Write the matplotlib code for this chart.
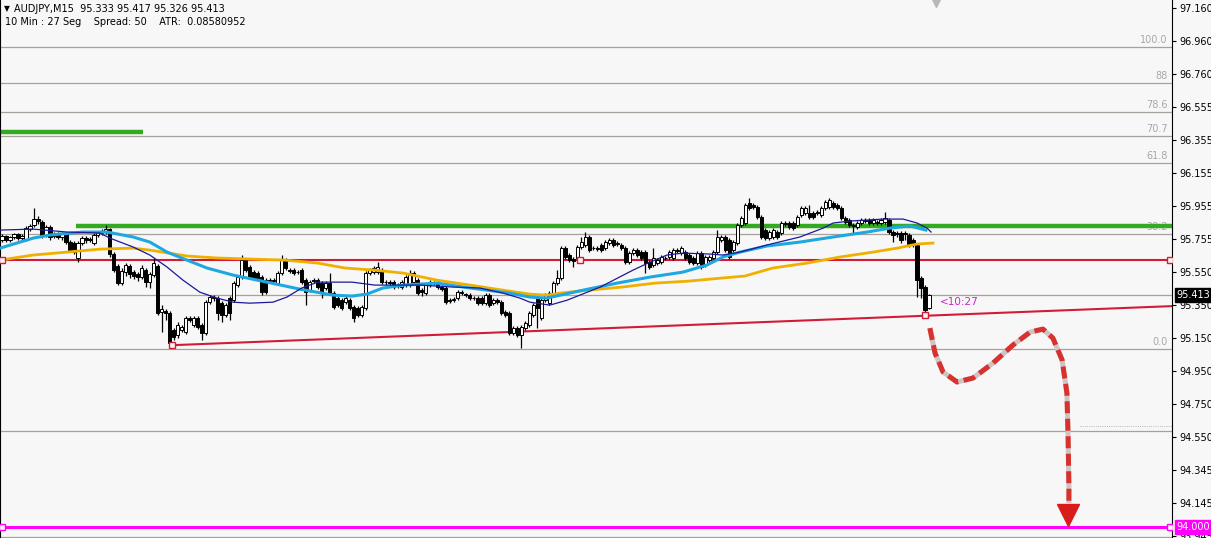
import numpy as np
import matplotlib.pyplot as plt
from matplotlib import transforms

# AUDJPY M15 candles
opens = [95.747, 95.772, 95.747, 95.766, 95.784, 95.759, 95.747, 95.814, 95.839, 95.875,
         95.857, 95.778, 95.827, 95.772, 95.784, 95.766, 95.784, 95.735, 95.729, 95.638,
         95.729, 95.759, 95.747, 95.729, 95.778, 95.790, 95.796, 95.814, 95.662, 95.589,
         95.485, 95.552, 95.589, 95.552, 95.540, 95.522, 95.564, 95.491, 95.534, 95.589,
         95.308, 95.314, 95.302, 95.198, 95.168, 95.198, 95.186, 95.272, 95.229, 95.272,
         95.229, 95.180, 95.369, 95.394, 95.394, 95.363, 95.290, 95.394, 95.381, 95.473,
         95.522, 95.625, 95.583, 95.552, 95.546, 95.522, 95.503, 95.503, 95.503, 95.485,
         95.546, 95.625, 95.564, 95.564, 95.552, 95.564, 95.503, 95.442, 95.503, 95.503,
         95.485, 95.455, 95.485, 95.424, 95.394, 95.381, 95.369, 95.381, 95.339, 95.333,
         95.290, 95.333, 95.546, 95.552, 95.552, 95.564, 95.491, 95.491, 95.491, 95.473,
         95.461, 95.473, 95.473, 95.491, 95.503, 95.442, 95.424, 95.473, 95.485, 95.485,
         95.461, 95.455, 95.381, 95.381, 95.394, 95.424, 95.418, 95.412, 95.394, 95.394,
         95.394, 95.363, 95.412, 95.363, 95.381, 95.369, 95.308, 95.302, 95.180, 95.211,
         95.168, 95.211, 95.229, 95.290, 95.394, 95.272, 95.381, 95.363, 95.424, 95.485,
         95.516, 95.698, 95.656, 95.631, 95.638, 95.705, 95.717, 95.766, 95.698, 95.698,
         95.717, 95.698, 95.729, 95.747, 95.729, 95.717, 95.698, 95.613, 95.668, 95.686,
         95.674, 95.674, 95.613, 95.595, 95.607, 95.613, 95.638, 95.644, 95.638, 95.686,
         95.668, 95.674, 95.656, 95.638, 95.607, 95.668, 95.595, 95.625, 95.638, 95.674,
         95.747, 95.766, 95.747, 95.686, 95.729, 95.839, 95.851, 95.973, 95.961, 95.948,
         95.887, 95.808, 95.759, 95.766, 95.796, 95.790, 95.851, 95.851, 95.851, 95.839,
         95.900, 95.912, 95.912, 95.912, 95.918, 95.900, 95.942, 95.948, 95.973, 95.961,
         95.942, 95.881, 95.869, 95.839, 95.827, 95.851, 95.869, 95.869, 95.851, 95.857,
         95.851, 95.857, 95.869, 95.796, 95.790, 95.790, 95.790, 95.778, 95.747, 95.717,
         95.516, 95.461, 95.333]
highs = [95.784, 95.778, 95.772, 95.790, 95.790, 95.784, 95.833, 95.845, 95.942, 95.894,
         95.869, 95.839, 95.839, 95.796, 95.796, 95.796, 95.796, 95.747, 95.741, 95.741,
         95.772, 95.772, 95.766, 95.790, 95.802, 95.814, 95.839, 95.820, 95.674, 95.601,
         95.577, 95.607, 95.601, 95.564, 95.552, 95.595, 95.577, 95.552, 95.638, 95.601,
         95.351, 95.326, 95.314, 95.211, 95.247, 95.229, 95.284, 95.284, 95.284, 95.284,
         95.241, 95.381, 95.412, 95.412, 95.406, 95.375, 95.363, 95.406, 95.497, 95.534,
         95.656, 95.638, 95.595, 95.564, 95.558, 95.534, 95.516, 95.516, 95.516, 95.558,
         95.656, 95.638, 95.577, 95.577, 95.564, 95.577, 95.516, 95.503, 95.516, 95.516,
         95.497, 95.497, 95.546, 95.436, 95.406, 95.394, 95.406, 95.394, 95.351, 95.345,
         95.351, 95.558, 95.577, 95.589, 95.613, 95.577, 95.503, 95.503, 95.503, 95.485,
         95.503, 95.534, 95.564, 95.558, 95.516, 95.455, 95.485, 95.503, 95.497, 95.497,
         95.473, 95.467, 95.394, 95.400, 95.442, 95.442, 95.424, 95.424, 95.406, 95.406,
         95.406, 95.424, 95.424, 95.394, 95.394, 95.381, 95.320, 95.314, 95.223, 95.223,
         95.229, 95.253, 95.314, 95.363, 95.406, 95.394, 95.424, 95.436, 95.497, 95.564,
         95.711, 95.711, 95.668, 95.644, 95.717, 95.766, 95.796, 95.778, 95.711, 95.711,
         95.729, 95.747, 95.759, 95.759, 95.741, 95.729, 95.711, 95.680, 95.698, 95.698,
         95.686, 95.686, 95.625, 95.698, 95.638, 95.656, 95.650, 95.686, 95.698, 95.698,
         95.711, 95.686, 95.668, 95.650, 95.680, 95.680, 95.656, 95.656, 95.686, 95.808,
         95.778, 95.778, 95.759, 95.747, 95.851, 95.894, 95.973, 96.003, 95.973, 95.961,
         95.900, 95.820, 95.808, 95.820, 95.808, 95.863, 95.863, 95.863, 95.863, 95.900,
         95.955, 95.955, 95.961, 95.924, 95.930, 95.955, 95.991, 96.003, 95.985, 95.973,
         95.955, 95.894, 95.881, 95.851, 95.863, 95.881, 95.881, 95.881, 95.881, 95.869,
         95.881, 95.918, 95.881, 95.808, 95.802, 95.802, 95.802, 95.790, 95.759, 95.729,
         95.528, 95.473, 95.417]
lows = [95.735, 95.735, 95.735, 95.753, 95.747, 95.747, 95.741, 95.802, 95.827, 95.845,
        95.759, 95.766, 95.747, 95.759, 95.753, 95.747, 95.723, 95.674, 95.662, 95.613,
        95.717, 95.729, 95.735, 95.717, 95.766, 95.778, 95.784, 95.644, 95.552, 95.473,
        95.473, 95.528, 95.516, 95.509, 95.497, 95.509, 95.461, 95.455, 95.522, 95.290,
        95.186, 95.259, 95.101, 95.137, 95.150, 95.186, 95.174, 95.247, 95.217, 95.204,
        95.137, 95.168, 95.357, 95.375, 95.259, 95.247, 95.278, 95.259, 95.369, 95.461,
        95.509, 95.552, 95.509, 95.503, 95.503, 95.412, 95.418, 95.485, 95.491, 95.473,
        95.534, 95.564, 95.546, 95.534, 95.540, 95.479, 95.351, 95.430, 95.485, 95.448,
        95.394, 95.442, 95.412, 95.326, 95.339, 95.320, 95.357, 95.320, 95.247, 95.278,
        95.278, 95.320, 95.534, 95.540, 95.540, 95.479, 95.473, 95.467, 95.448, 95.455,
        95.448, 95.461, 95.461, 95.479, 95.412, 95.406, 95.412, 95.461, 95.473, 95.448,
        95.436, 95.357, 95.363, 95.369, 95.381, 95.412, 95.400, 95.381, 95.381, 95.351,
        95.351, 95.351, 95.339, 95.351, 95.357, 95.290, 95.278, 95.168, 95.168, 95.156,
        95.089, 95.198, 95.217, 95.278, 95.211, 95.259, 95.369, 95.351, 95.412, 95.473,
        95.503, 95.631, 95.613, 95.583, 95.625, 95.692, 95.705, 95.674, 95.686, 95.680,
        95.674, 95.686, 95.717, 95.705, 95.711, 95.686, 95.601, 95.601, 95.656, 95.644,
        95.625, 95.546, 95.570, 95.583, 95.595, 95.601, 95.625, 95.631, 95.625, 95.668,
        95.656, 95.625, 95.601, 95.595, 95.595, 95.570, 95.583, 95.613, 95.625, 95.662,
        95.735, 95.674, 95.631, 95.674, 95.717, 95.827, 95.839, 95.930, 95.936, 95.875,
        95.753, 95.747, 95.747, 95.753, 95.753, 95.778, 95.833, 95.814, 95.808, 95.827,
        95.887, 95.900, 95.875, 95.875, 95.900, 95.887, 95.930, 95.936, 95.936, 95.930,
        95.869, 95.845, 95.827, 95.790, 95.814, 95.839, 95.851, 95.839, 95.839, 95.839,
        95.839, 95.845, 95.784, 95.735, 95.766, 95.729, 95.747, 95.705, 95.705, 95.400,
        95.394, 95.272, 95.326]
closes = [95.772, 95.747, 95.766, 95.784, 95.759, 95.772, 95.820, 95.833, 95.875, 95.863,
          95.778, 95.827, 95.766, 95.784, 95.766, 95.784, 95.735, 95.686, 95.674, 95.729,
          95.759, 95.747, 95.753, 95.778, 95.790, 95.802, 95.814, 95.662, 95.564, 95.485,
          95.558, 95.595, 95.540, 95.528, 95.522, 95.577, 95.491, 95.540, 95.607, 95.302,
          95.326, 95.302, 95.119, 95.156, 95.229, 95.217, 95.272, 95.259, 95.272, 95.217,
          95.180, 95.369, 95.400, 95.400, 95.302, 95.290, 95.351, 95.302, 95.485, 95.522,
          95.625, 95.564, 95.522, 95.516, 95.516, 95.430, 95.430, 95.497, 95.500, 95.546,
          95.625, 95.577, 95.558, 95.546, 95.550, 95.491, 95.430, 95.491, 95.497, 95.461,
          95.430, 95.485, 95.424, 95.339, 95.351, 95.333, 95.394, 95.333, 95.272, 95.290,
          95.339, 95.546, 95.564, 95.577, 95.583, 95.491, 95.489, 95.485, 95.461, 95.471,
          95.491, 95.522, 95.546, 95.546, 95.424, 95.430, 95.473, 95.491, 95.483, 95.461,
          95.448, 95.369, 95.375, 95.387, 95.430, 95.430, 95.412, 95.394, 95.392, 95.363,
          95.363, 95.412, 95.351, 95.381, 95.369, 95.302, 95.290, 95.180, 95.211, 95.168,
          95.217, 95.241, 95.302, 95.351, 95.333, 95.381, 95.412, 95.424, 95.485, 95.516,
          95.698, 95.644, 95.625, 95.619, 95.705, 95.735, 95.766, 95.686, 95.696, 95.692,
          95.686, 95.735, 95.747, 95.717, 95.723, 95.698, 95.613, 95.668, 95.686, 95.656,
          95.638, 95.607, 95.583, 95.638, 95.625, 95.644, 95.636, 95.674, 95.686, 95.680,
          95.698, 95.638, 95.613, 95.607, 95.668, 95.583, 95.644, 95.644, 95.674, 95.766,
          95.766, 95.686, 95.644, 95.735, 95.839, 95.881, 95.961, 95.942, 95.948, 95.887,
          95.766, 95.759, 95.796, 95.808, 95.766, 95.851, 95.845, 95.827, 95.820, 95.887,
          95.942, 95.942, 95.887, 95.887, 95.912, 95.942, 95.979, 95.991, 95.948, 95.942,
          95.881, 95.857, 95.839, 95.833, 95.851, 95.869, 95.863, 95.851, 95.869, 95.851,
          95.869, 95.881, 95.796, 95.778, 95.784, 95.747, 95.784, 95.717, 95.717, 95.503,
          95.455, 95.320, 95.413]

# moving averages: (bar index, price) samples
ma_fast_x = [-0.5, 7.8, 16.3, 24.5, 27, 32.8, 37, 41.3, 45.3, 49.5, 53.8, 57.8, 62, 67.8,
             71.3, 75, 79, 87.6, 93.3, 104.6, 112.9, 119.6, 125.4, 129.6, 132.1, 137.1,
             141.4, 149.7, 157.9, 162.2, 166.4, 170.4, 177.2, 180.4, 184.7, 191.4, 199.7,
             205.5, 208, 212.2, 220.5, 225.5, 229, 231.5, 232.5]
ma_fast_y = [95.808, 95.814, 95.796, 95.790, 95.759, 95.705, 95.656, 95.583, 95.503, 95.430,
             95.394, 95.369, 95.363, 95.369, 95.400, 95.455, 95.491, 95.491, 95.473, 95.473,
             95.461, 95.455, 95.424, 95.394, 95.369, 95.351, 95.381, 95.461, 95.564, 95.613,
             95.656, 95.668, 95.662, 95.656, 95.674, 95.717, 95.766, 95.820, 95.851, 95.863,
             95.875, 95.875, 95.851, 95.820, 95.796]
ma_mid_x = [-0.5, 7.8, 12, 20.3, 26.3, 32.8, 37, 41.3, 46.3, 51.3, 57.8, 66.3, 74.6, 82.8,
            87.6, 91.3, 95.3, 100.4, 108.9, 115.4, 121.4, 127.1, 132.1, 136.4, 145.4, 153.9,
            162.2, 170.4, 176.4, 180.4, 184.7, 191.4, 199.7, 208, 216.5, 222.2, 227.2, 231.2]
ma_mid_y = [95.698, 95.759, 95.778, 95.796, 95.796, 95.766, 95.735, 95.674, 95.625, 95.577,
            95.534, 95.491, 95.448, 95.412, 95.406, 95.418, 95.455, 95.473, 95.485, 95.461,
            95.442, 95.424, 95.400, 95.394, 95.442, 95.485, 95.522, 95.552, 95.595, 95.644,
            95.674, 95.711, 95.735, 95.766, 95.796, 95.820, 95.833, 95.808]
ma_slow_x = [-0.5, 7.8, 16.3, 24.5, 32.8, 37, 46.3, 53.8, 70.8, 79, 85.8, 93.3, 100.4, 108.9,
             117.1, 125.4, 132.1, 136.4, 139.6, 146.6, 155.2, 163.4, 171.7, 180.2, 185.9,
             192.9, 201.5, 209.7, 218, 224, 229, 233]
ma_slow_y = [95.625, 95.656, 95.674, 95.692, 95.698, 95.686, 95.650, 95.638, 95.625, 95.607,
             95.577, 95.564, 95.546, 95.503, 95.473, 95.442, 95.418, 95.412, 95.424, 95.442,
             95.461, 95.485, 95.497, 95.516, 95.528, 95.577, 95.607, 95.644, 95.674, 95.698,
             95.723, 95.729]

# horizontal levels
fib_levels = [96.922, 96.701, 96.529, 96.383, 96.219, 95.785, 95.083, 94.583]
fib_labels = ['100.0', '88', '78.6', '70.7', '61.8', '38.2', '0.0', '']
bid_price = 95.413
green_top = 96.405
green_top_end = 35.3
green_res = 95.833
green_res_start = 18.5
red_support = 95.625
target_price = 94.000
trend_x = [42.5, 292.8]
trend_y = [95.107, 95.345]
dotted_level = 94.615

# hand drawn projected path
path_x = [232.2, 233.5, 235.5, 239, 243, 248, 253, 257.3, 260.5, 263, 265.3, 266.5, 266.8, 267, 267]
path_y = [95.211, 95.059, 94.944, 94.883, 94.907, 94.998, 95.108, 95.187, 95.205, 95.150,
          95.017, 94.816, 94.548, 94.243, 94.146]

ticks = [97.160, 96.960, 96.760, 96.555, 96.355, 96.155, 95.955, 95.755, 95.550,
         95.350, 95.150, 94.950, 94.750, 94.550, 94.345, 94.145, 93.945]

bg = '#f8f7f7'
fig = plt.figure(figsize=(12.11, 5.38), dpi=100)
fig.patch.set_facecolor(bg)
ax = fig.add_axes([0, 0, 1172 / 1211, 1])
ax.set_facecolor(bg)
x0, x1 = -0.5, 292.8
ax.set_xlim(x0, x1)
ax.set_ylim(93.933, 97.209)

for s in ['top', 'bottom']:
    ax.spines[s].set_visible(False)
ax.spines['right'].set_color('black')
ax.spines['left'].set_color('black')
ax.set_xticks([])
ax.yaxis.tick_right()
ax.set_yticks(ticks)
ax.set_yticklabels(['%.3f' % t for t in ticks])
ax.tick_params(axis='y', length=3, width=0.8, pad=2, labelsize=7, colors='black')

yx = transforms.blended_transform_factory(ax.transAxes, ax.transData)

for lv, lb in zip(fib_levels, fib_labels):
    ax.axhline(lv, color='#a7a19b', lw=0.9, zorder=1)
    if lb:
        ax.text(0.9965, lv + 0.012, lb, transform=yx, ha='right', va='bottom',
                fontsize=7, color='#a8a8a8', zorder=2)
ax.axhline(bid_price, color='#a7a19b', lw=0.9, zorder=1)
ax.axhline(93.942, color='#a7a19b', lw=0.9, zorder=1)
ax.plot([269.8, x1], [dotted_level, dotted_level], color='#a0a0a0', lw=0.6, ls=':', zorder=1)

ax.plot([x0, green_top_end], [green_top, green_top], color='#33aa22', lw=3.2, zorder=2,
        solid_capstyle='butt')
ax.plot([green_res_start, x1], [green_res, green_res], color='#33aa22', lw=3.2, zorder=2,
        solid_capstyle='butt')
ax.axhline(red_support, color='#d01c38', lw=1.5, zorder=2)
ax.plot(trend_x, trend_y, color='#d01c38', lw=1.5, zorder=2)
ax.axhline(target_price, color='#ff00ff', lw=2.2, zorder=2)

# candles
o = np.array(opens)
c = np.array(closes)
idx = np.arange(len(c))
up = c >= o
ax.vlines(idx, lows, highs, color='black', lw=0.9, zorder=3)
ax.bar(idx, np.maximum(np.abs(c - o), 0.004), bottom=np.minimum(o, c), width=0.8,
       color=np.where(up, 'white', 'black'), edgecolor='black', lw=0.7, zorder=4)

ax.plot(ma_slow_x, ma_slow_y, color='#f0b000', lw=2.0, zorder=5)
ax.plot(ma_mid_x, ma_mid_y, color='#1ea8e0', lw=2.2, zorder=5)
ax.plot(ma_fast_x, ma_fast_y, color='#1a1a9a', lw=0.9, zorder=6)

# small square handles
sq = dict(marker='s', ms=4, mfc=bg, mew=1.0, ls='none', zorder=7)
ax.plot([x0 + 0.4, 144.6, x1 - 0.4], [red_support] * 3, mec='#d01c38', **sq)
ax.plot([trend_x[0], 231], [95.107, 95.290], mec='#d01c38', **sq)
ax.plot([x0 + 0.4, x1 - 0.6], [target_price] * 2, mec='#ff00ff', **sq)
ax.plot([233.7], [97.19], marker='v', ms=6, color='#b8b8b8', ls='none', zorder=7)

# projected path
ax.plot(path_x, path_y, color='#cfc4c4', lw=3.6, zorder=7, solid_capstyle='butt')
ax.plot(path_x, path_y, color='#d8322e', lw=3.6, dashes=(2.4, 1.1), zorder=8,
        dash_capstyle='butt')
ax.plot([266.8], [94.073], marker='v', ms=16, color='#d81c1c', ls='none', zorder=9)

ax.text(234.7, 95.369, '<10:27', color='#d020d0', fontsize=7.5, va='center', ha='left',
        zorder=9)

# price tags on the axis
ax.text(1.004, bid_price, '95.413', transform=yx, color='white', fontsize=7, va='center',
        ha='left', bbox=dict(boxstyle='square,pad=0.2', fc='black', ec='black'), zorder=10,
        clip_on=False)
ax.text(1.004, target_price, '94.000', transform=yx, color='white', fontsize=7, va='center',
        ha='left', bbox=dict(boxstyle='square,pad=0.2', fc='#ff00ff', ec='#ff00ff'),
        zorder=10, clip_on=False)

# header
fig.text(4 / 1211, 1 - 9 / 538, '\u25bc', fontsize=5.5, va='center', color='black')
fig.text(14 / 1211, 1 - 9 / 538, 'AUDJPY,M15  95.333 95.417 95.326 95.413', fontsize=7,
         va='center', color='black')
fig.text(5 / 1211, 1 - 22 / 538, '10 Min : 27 Seg    Spread: 50    ATR:  0.08580952',
         fontsize=7, va='center', color='black')

fig.savefig('out.png', dpi=100, facecolor=bg)
